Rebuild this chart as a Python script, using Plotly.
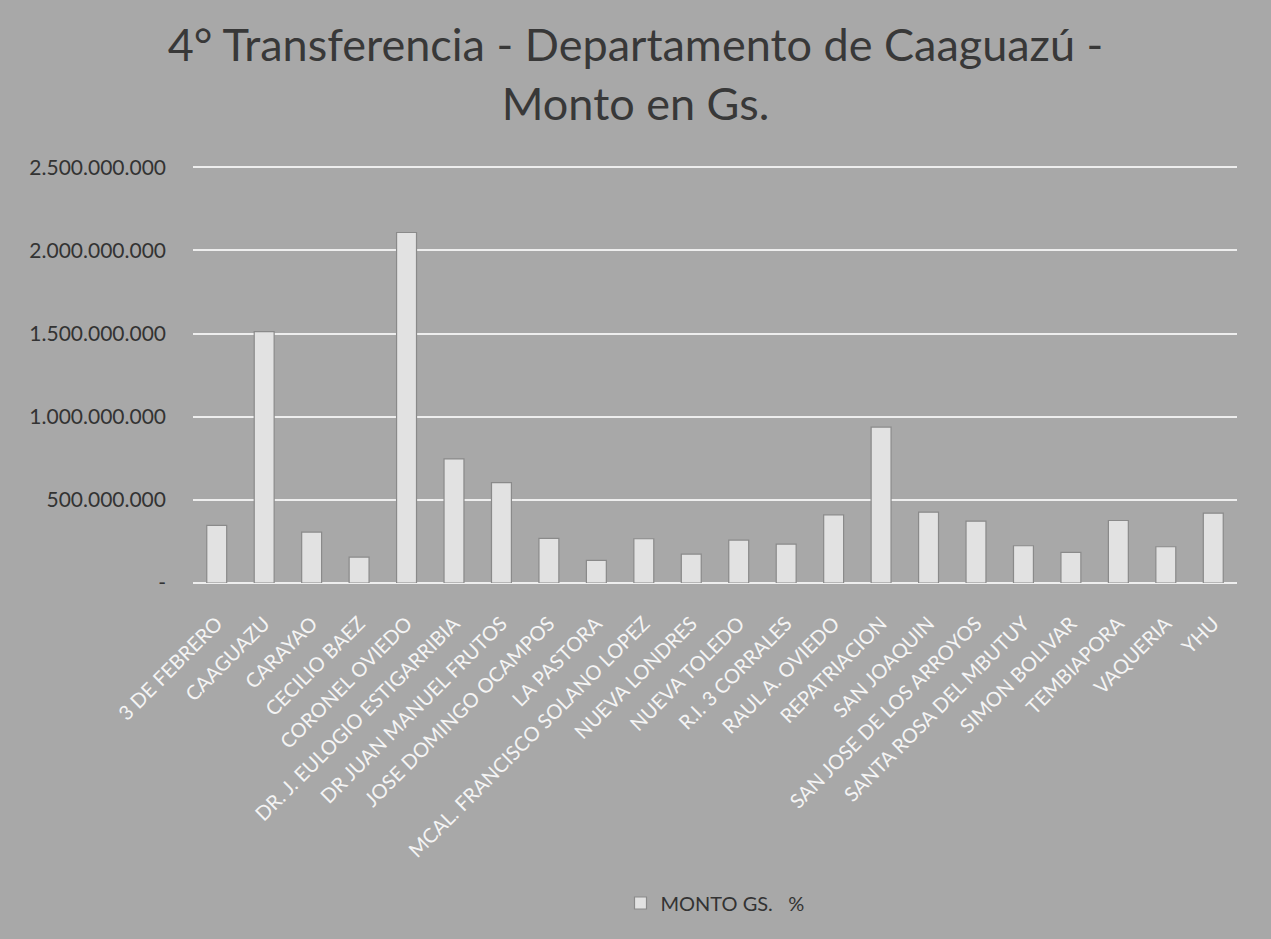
import plotly.graph_objects as go

categories = [
    "3 DE FEBRERO", "CAAGUAZU", "CARAYAO", "CECILIO BAEZ", "CORONEL OVIEDO",
    "DR. J. EULOGIO ESTIGARRIBIA", "DR JUAN MANUEL FRUTOS", "JOSE DOMINGO OCAMPOS",
    "LA PASTORA", "MCAL. FRANCISCO SOLANO LOPEZ", "NUEVA LONDRES", "NUEVA TOLEDO",
    "R.I. 3 CORRALES", "RAUL A. OVIEDO", "REPATRIACION", "SAN JOAQUIN",
    "SAN JOSE DE LOS ARROYOS", "SANTA ROSA DEL MBUTUY", "SIMON BOLIVAR",
    "TEMBIAPORA", "VAQUERIA", "YHU",
]
monto = [
    346e6, 1512e6, 306e6, 156e6, 2108e6,
    746e6, 604e6, 268e6,
    136e6, 266e6, 174e6, 258e6,
    234e6, 410e6, 938e6, 426e6,
    372e6, 224e6, 184e6,
    376e6, 218e6, 420e6,
]
tick_vals = [0, 500e6, 1000e6, 1500e6, 2000e6, 2500e6]
tick_text = ["-", "500.000.000", "1.000.000.000", "1.500.000.000", "2.000.000.000", "2.500.000.000"]

fig = go.Figure()
fig.add_trace(go.Bar(
    x=categories, y=monto, name="MONTO GS.   %",
    marker=dict(color="#e2e2e2", line=dict(color="#8a8a8a", width=1.2)),
    width=0.42,
))

fig.update_layout(
    width=1271, height=939,
    paper_bgcolor="#a8a8a8", plot_bgcolor="#a8a8a8",
    margin=dict(l=193, r=34, t=164, b=356),
    title=dict(
        text="4° Transferencia - Departamento de Caaguazú -<br>Monto en Gs.",
        x=0.5, xanchor="center", y=1 - 61 / 939, yanchor="middle", yref="container",
        font=dict(family="Lato", size=45, color="#383838"),
    ),
    font=dict(family="Lato", color="#333333"),
    showlegend=True,
    legend=dict(orientation="h", x=0.5, xanchor="center", y=(939 - 903) / 939, yref="container",
                yanchor="middle", font=dict(size=20, color="#333333"),
                bgcolor="rgba(0,0,0,0)"),
)
fig.update_xaxes(
    tickangle=-45, tickfont=dict(family="Lato", size=20, color="#f4f4f4"),
    showgrid=False, showline=False, ticks="", ticklabelstandoff=24,
)
fig.update_yaxes(
    range=[0, 2520e6], tickvals=tick_vals, ticktext=tick_text,
    tickfont=dict(family="Lato", size=21, color="#333333"),
    showgrid=True, gridcolor="#eeeeee", gridwidth=2,
    zeroline=True, zerolinecolor="#eeeeee", zerolinewidth=2,
    ticks="", ticklabelstandoff=26,
)
fig.write_html(
    "out.html",
    config={"displayModeBar": False},
    post_script="document.body.style.margin='0';document.body.style.overflow='hidden';",
)
